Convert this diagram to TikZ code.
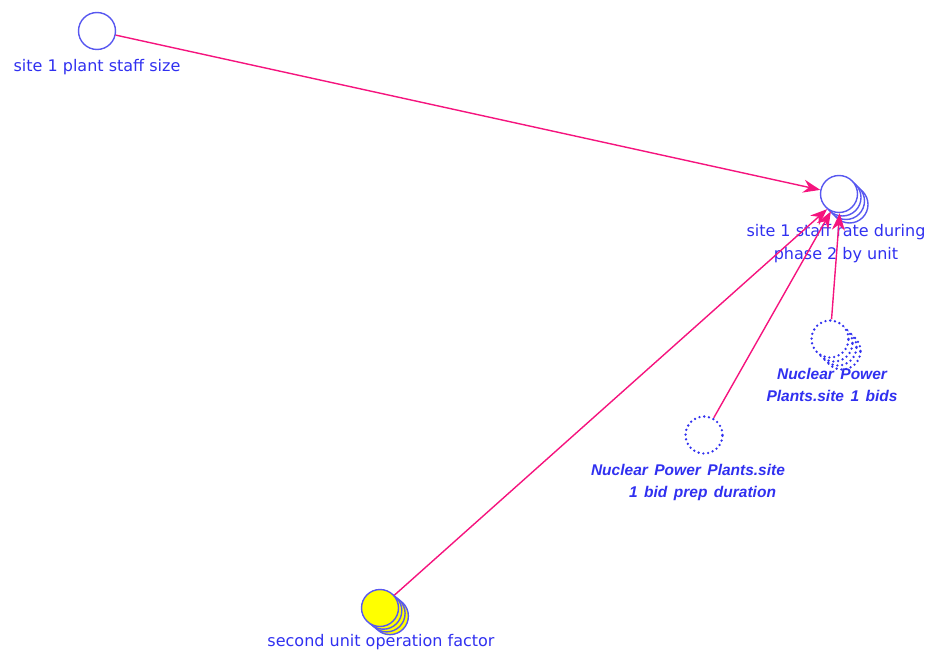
\documentclass[tikz,border=0pt]{standalone}
\usepackage{fontspec}
\setmainfont{Liberation Sans}
\newfontfamily\plainfont{DejaVu Sans}
\usetikzlibrary{arrows.meta, calc}
\definecolor{vblue}{HTML}{3030F0}
\definecolor{vline}{HTML}{5858F0}
\definecolor{vpink}{HTML}{F5147E}
\definecolor{vyellow}{HTML}{FFFF00}
\newcommand\widespaces{\spaceskip=6.5pt\relax}
\tikzset{
  every picture/.style={line width=1pt},
  var/.style={circle, draw=vline, fill=white, minimum size=37pt, inner sep=0pt, line width=1.4pt},
  ghost/.style={var, draw=vblue, line width=2.6pt, dash pattern=on 0pt off 4.8pt, line cap=round},
  lbl/.style={font=\plainfont\fontsize{16}{23}\selectfont, text=vblue, align=center, inner sep=0pt},
  ghostlbl/.style={lbl, font=\fontsize{15.5}{22}\selectfont\bfseries\itshape\widespaces},
  link/.style={-{Stealth[length=17pt, width=13pt]}, draw=vpink, line width=1.4pt},
}

\begin{document}
\begin{tikzpicture}[x=1pt, y=-1pt]
  \useasboundingbox (0,0) rectangle (931,655);
  % stacked copies behind the array variables
  \foreach \k in {3,2,1} {
    \node[var] at ($(839,194)+(3.5*\k,3.5*\k)$) {};
    \node[var, fill=vyellow] at ($(380,608)+(3.3*\k,2.7*\k)$) {};
    \node[ghost] at ($(830,339)+(4*\k,4*\k)$) {};
  }
  \node[var] (staffsize) at (97,31) {};
  \node[var] (staffrate) at (839,194) {};
  \node[ghost] (bids) at (830,339) {};
  \node[ghost] (prep) at (704,435) {};
  \node[var, fill=vyellow] (opfactor) at (380,608) {};
  % labels
  \node[lbl] (staffsize-l) at (97,67) {site 1 plant staff size};
  \node[lbl] (staffrate-l) at (836,244) {site 1 staff rate during\\phase 2 by unit};
  \node[ghostlbl] (bids-l) at (832,385) {Nuclear Power\\Plants.site 1 bids};
  \node[ghostlbl] (prep-l) at (688,482) {Nuclear Power Plants.site\\\hspace*{29pt}1 bid prep duration};
  \node[lbl] (opfactor-l) at (381,642) {second unit operation factor};
  % links
  \draw[link] (staffsize) -- (staffrate);
  \draw[link] (opfactor) -- (staffrate.-128);
  \draw[link] (prep) -- (staffrate.-115);
  \draw[link] (bids) -- (staffrate.-88);
\end{tikzpicture}
\end{document}
